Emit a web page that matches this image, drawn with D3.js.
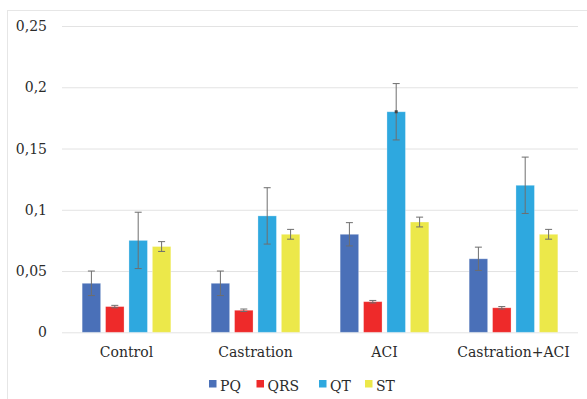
<!DOCTYPE html>
<html>
<head>
<meta charset="utf-8">
<script src="https://cdn.jsdelivr.net/npm/d3@7"></script>
<style>
  html, body { margin: 0; padding: 0; background: #fff; }
  svg { display: block; }
</style>
</head>
<body>
<svg id="chart" width="587" height="399"></svg>
<script>
// Groups and ECG interval series (seconds)
const categories = ["Control", "Castration", "ACI", "Castration+ACI"];
const seriesNames = ["PQ", "QRS", "QT", "ST"];
const seriesColors = ["#4A70B8", "#EE2A2A", "#2EA8DF", "#ECE84A"];

const pqValues  = [0.04, 0.04, 0.08, 0.06];
const qrsValues = [0.021, 0.018, 0.025, 0.02];
const qtValues  = [0.075, 0.095, 0.18, 0.12];
const stValues  = [0.07, 0.08, 0.09, 0.08];

const pqErrors  = [0.01, 0.01, 0.0095, 0.0095];
const qrsErrors = [0.001, 0.001, 0.001, 0.001];
const qtErrors  = [0.023, 0.023, 0.023, 0.023];
const stErrors  = [0.004, 0.004, 0.004, 0.004];

const yTicks = [0, 0.05, 0.1, 0.15, 0.2, 0.25];

const values = [pqValues, qrsValues, qtValues, stValues];
const errors = [pqErrors, qrsErrors, qtErrors, stErrors];

const FONT = "DejaVu Serif";
const FONT_SIZE = 14;
const TEXT_COLOR = "#2b2b2b";

const svg = d3.select("#chart");

// Chart frame
svg.append("rect")
  .attr("x", 7.5).attr("y", 10.5)
  .attr("width", 590).attr("height", 400)
  .attr("fill", "none").attr("stroke", "#e6e6e6").attr("stroke-width", 1);

const plot = { left: 62, right: 578, top: 26, bottom: 332.3 };

const x0 = d3.scaleBand()
  .domain(categories)
  .range([plot.left, plot.right])
  .paddingInner(0.3125)
  .paddingOuter(0.15625);

const x1 = d3.scaleBand()
  .domain(seriesNames)
  .range([0, x0.bandwidth()])
  .paddingInner(0.21)
  .paddingOuter(0);

const y = d3.scaleLinear()
  .domain([0, 0.25])
  .range([plot.bottom, plot.top]);

const fmt = v => String(v).replace(".", ",");

// Gridlines and tick labels
const yAxis = d3.axisLeft(y)
  .tickValues(yTicks)
  .tickFormat(fmt)
  .tickSize(-(plot.right - plot.left))
  .tickPadding(15);

const gy = svg.append("g")
  .attr("transform", `translate(${plot.left},0)`)
  .call(yAxis);
gy.attr("font-family", FONT);
gy.select(".domain").remove();
gy.selectAll(".tick line").attr("stroke", "#e3e3e3").attr("stroke-width", 1);
gy.selectAll(".tick text")
  .attr("font-family", FONT)
  .attr("font-size", FONT_SIZE)
  .attr("fill", TEXT_COLOR);

// Category labels
const xAxis = d3.axisBottom(x0).tickSize(0).tickPadding(15);
const gx = svg.append("g")
  .attr("transform", `translate(0,${plot.bottom})`)
  .call(xAxis);
gx.attr("font-family", FONT);
gx.select(".domain").remove();
gx.selectAll(".tick text")
  .attr("font-family", FONT)
  .attr("font-size", FONT_SIZE)
  .attr("fill", TEXT_COLOR);

// Bars
const rows = [];
categories.forEach((c, ci) => {
  seriesNames.forEach((s, si) => {
    rows.push({ cat: c, series: s, value: values[si][ci], err: errors[si][ci], color: seriesColors[si] });
  });
});

const bars = svg.append("g");
bars.selectAll("rect")
  .data(rows)
  .join("rect")
  .attr("x", d => x0(d.cat) + x1(d.series))
  .attr("y", d => y(d.value))
  .attr("width", x1.bandwidth())
  .attr("height", d => y(0) - y(d.value))
  .attr("fill", d => d.color)
  .attr("stroke", "#ffffff")
  .attr("stroke-opacity", 0.35)
  .attr("stroke-width", 0.8);

// Error bars
const eb = svg.append("g").attr("stroke", "#6e6e6e").attr("stroke-width", 1).attr("fill", "none");
const cx = d => x0(d.cat) + x1(d.series) + x1.bandwidth() / 2;
eb.selectAll("line.v")
  .data(rows)
  .join("line")
  .attr("class", "v")
  .attr("x1", cx).attr("x2", cx)
  .attr("y1", d => y(d.value + d.err))
  .attr("y2", d => y(d.value - d.err));
eb.selectAll("line.t")
  .data(rows)
  .join("line")
  .attr("class", "t")
  .attr("x1", d => cx(d) - 3.5).attr("x2", d => cx(d) + 3.5)
  .attr("y1", d => y(d.value + d.err)).attr("y2", d => y(d.value + d.err));
eb.selectAll("line.b")
  .data(rows)
  .join("line")
  .attr("class", "b")
  .attr("x1", d => cx(d) - 3.5).attr("x2", d => cx(d) + 3.5)
  .attr("y1", d => y(d.value - d.err)).attr("y2", d => y(d.value - d.err));

// Marker on the ACI QT mean
const marked = rows.filter(d => d.cat === "ACI" && d.series === "QT");
svg.append("g").selectAll("rect")
  .data(marked)
  .join("rect")
  .attr("x", d => cx(d) - 1.5)
  .attr("y", d => y(d.value) - 1.5)
  .attr("width", 3).attr("height", 3)
  .attr("fill", "#444");

// Legend
const legendX = [209, 256.5, 319, 365];
const legend = svg.append("g");
const items = legend.selectAll("g")
  .data(seriesNames)
  .join("g")
  .attr("transform", (d, i) => `translate(${legendX[i]},380)`);
items.append("rect")
  .attr("width", 7.5).attr("height", 7.5)
  .attr("fill", (d, i) => seriesColors[i]);
items.append("text")
  .attr("x", 11)
  .attr("y", 10.5)
  .attr("font-family", FONT)
  .attr("font-size", FONT_SIZE)
  .attr("fill", TEXT_COLOR)
  .text(d => d);
</script>
</body>
</html>
